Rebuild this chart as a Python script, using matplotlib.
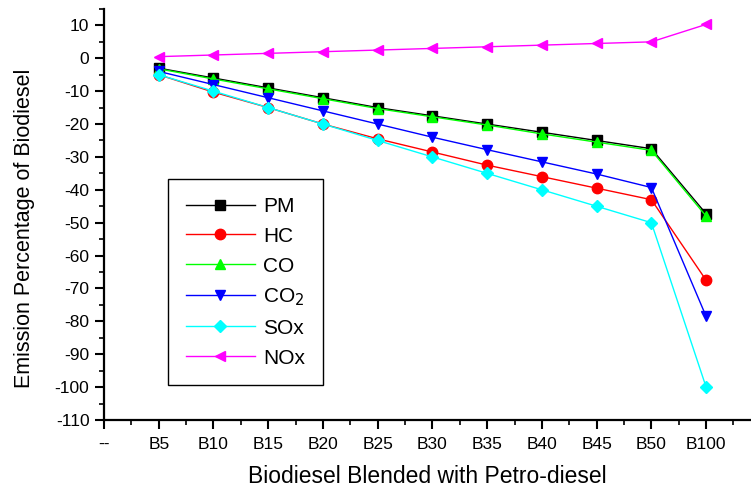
import matplotlib
matplotlib.use("Agg")
import matplotlib.pyplot as plt
from matplotlib.ticker import MultipleLocator

plt.rcParams['font.family'] = ['Liberation Sans', 'DejaVu Sans']
plt.rcParams['axes.unicode_minus'] = False

blends = ['--', 'B5', 'B10', 'B15', 'B20', 'B25', 'B30', 'B35', 'B40', 'B45', 'B50', 'B100']

pm = [-3, -6, -9, -12, -15, -17.5, -20, -22.5, -25, -27.5, -47.3]
hc = [-5, -10.3, -15, -20, -24.5, -28.5, -32.5, -36, -39.5, -43, -67.5]
co = [-3.2, -6.3, -9.3, -12.3, -15.3, -17.8, -20.3, -23, -25.5, -28, -48]
co2 = [-4, -8, -12, -16, -20, -24, -27.8, -31.5, -35.2, -39.3, -78.5]
sox = [-5, -10, -15, -20, -25, -30, -35, -40, -45, -50, -100]
nox = [0.5, 1, 1.5, 2, 2.5, 3, 3.5, 4, 4.5, 5, 10.3]

series = [
    ('PM', pm, 'black', 's'),
    ('HC', hc, 'red', 'o'),
    ('CO', co, '#00ff00', '^'),
    ('CO$_2$', co2, 'blue', 'v'),
    ('SOx', sox, 'cyan', 'D'),
    ('NOx', nox, 'magenta', '<'),
]

fig = plt.figure(figsize=(7.51, 4.87), dpi=100)
ax = fig.add_axes([0.1385, 0.1376, 0.8615, 0.844])

x = list(range(1, len(blends)))
for label, vals, color, marker in series:
    ms = 6.5 if marker == 'D' else 7.5
    ax.plot(x, vals, color=color, linewidth=1, marker=marker, markersize=ms,
            markeredgecolor=color, label=label)

ax.set_xlim(0, 11.82)
ax.set_ylim(-110, 15)
ax.set_xticks(range(len(blends)))
ax.set_xticklabels(blends)
ax.xaxis.set_minor_locator(MultipleLocator(0.5))
ax.yaxis.set_major_locator(MultipleLocator(10))
ax.yaxis.set_minor_locator(MultipleLocator(5))

for side in ['top', 'right']:
    ax.spines[side].set_visible(False)
for side in ['left', 'bottom']:
    ax.spines[side].set_linewidth(1.6)

ax.tick_params(which='major', direction='out', length=6.5, width=1.5, labelsize=12.5)
ax.tick_params(which='minor', direction='out', length=3.5, width=1.2)
ax.tick_params(axis='x', pad=6)
ax.tick_params(axis='y', pad=4)

ax.set_xlabel('Biodiesel Blended with Petro-diesel', fontsize=16.5, labelpad=9)
ax.set_ylabel('Emission Percentage of Biodiesel', fontsize=15.5)
ax.yaxis.set_label_coords(-0.106, 0.467)

leg = ax.legend(loc='upper left', bbox_to_anchor=(0.099, 0.586), fontsize=15,
                fancybox=False, edgecolor='black', framealpha=1,
                handlelength=3.3, labelspacing=0.52, borderpad=0.85,
                handletextpad=0.4, borderaxespad=0)
leg.get_frame().set_linewidth(1)

fig.savefig('out.png', dpi=100)
